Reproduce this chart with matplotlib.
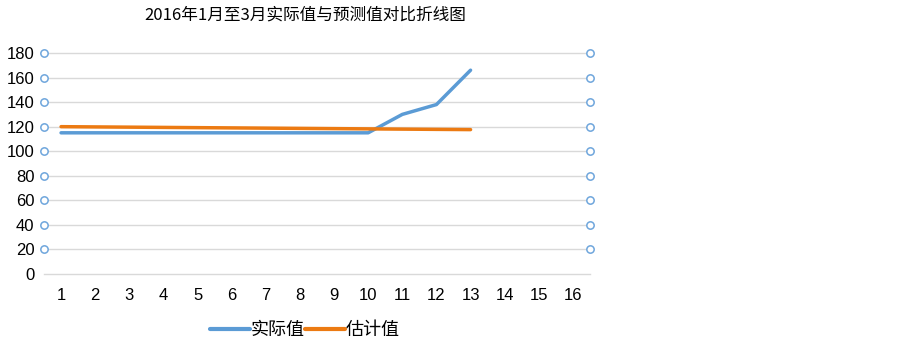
import matplotlib
matplotlib.use("Agg")
import matplotlib.pyplot as plt

plt.rcParams['font.family'] = ['Liberation Sans', 'Noto Sans CJK SC', 'DejaVu Sans']

categories = list(range(1, 17))
actual_x = list(range(1, 14))
actual = [115, 115, 115, 115, 115, 115, 115, 115, 115, 115, 130, 138, 166]
estimate = [120.0, 119.8, 119.6, 119.4, 119.2, 119.0, 118.8, 118.6, 118.4, 118.2, 118.0, 117.8, 117.6]
y_ticks = [0, 20, 40, 60, 80, 100, 120, 140, 160, 180]
marker_levels = [20, 40, 60, 80, 100, 120, 140, 160, 180]
title = "2016年1月至3月实际值与预测值对比折线图"

blue = "#5B9BD5"
orange = "#EC7A12"

fig = plt.figure(figsize=(9.03, 3.41), dpi=100)
ax = fig.add_axes([44/903, 1-274/341, 546/903, 221/341])
ax.set_xlim(0.5, 16.5)
ax.set_ylim(0, 180)

for y in y_ticks:
    ax.axhline(y, color="#d9d9d9", lw=1.0, zorder=0, clip_on=False)

ax.plot(actual_x, actual, color=blue, lw=2.5, solid_capstyle='round', zorder=3, label="实际值")
ax.plot(actual_x, estimate, color=orange, lw=2.5, solid_capstyle='round', zorder=3, label="估计值")

for xpos in (0.5, 16.5):
    ax.scatter([xpos]*len(marker_levels), marker_levels, s=28, facecolor='white', edgecolor="#6fa6dc",
               lw=1.1, zorder=4, clip_on=False)

for s in ax.spines.values():
    s.set_visible(False)
ax.set_xticks(categories)
ax.set_xticklabels([str(c) for c in categories], fontsize=12)
ax.set_yticks(y_ticks)
ax.set_yticklabels([str(v) for v in y_ticks], fontsize=12)
ax.tick_params(axis='both', length=0)
ax.tick_params(axis='y', pad=7)
ax.tick_params(axis='x', pad=10)

fig.text(305/903, 1-15/341, title, ha='center', va='center', fontsize=12,
         family=['Noto Sans CJK SC', 'DejaVu Sans'])

handles, labels = ax.get_legend_handles_labels()
leg = fig.legend(handles, labels, loc='center', bbox_to_anchor=(305/903, 1-330/341), ncol=2,
                 frameon=False, handlelength=2.2, handletextpad=0.05, columnspacing=0.05,
                 prop={'family': 'Noto Sans CJK SC', 'size': 13})
for l in leg.get_lines():
    l.set_linewidth(3)

fig.savefig("out.png", dpi=100)
